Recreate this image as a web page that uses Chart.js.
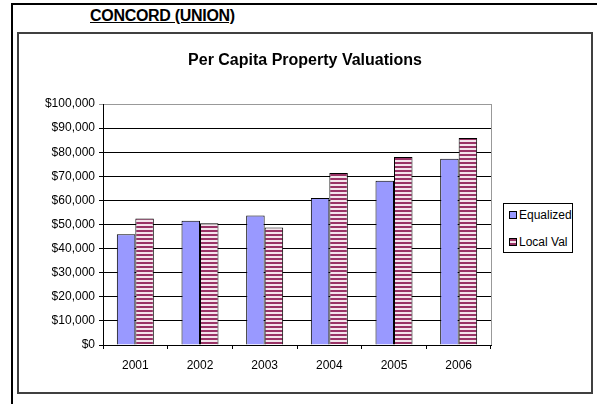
<!DOCTYPE html>
<html>
<head>
<meta charset="utf-8">
<script src="https://cdn.jsdelivr.net/npm/chart.js@4.4.0/dist/chart.umd.min.js"></script>
<style>
  body { margin: 0; background: #fff; font-family: 'Liberation Sans', Arial, sans-serif; }
  #page { position: relative; width: 597px; height: 404px; overflow: hidden; }
  #frameLeft { position: absolute; left: 11px; top: 3px; width: 2px; height: 401px; background: #000; }
  #frameTop { position: absolute; left: 11px; top: 3px; width: 586px; height: 2px; background: #000; }
  #header { position: absolute; left: 90px; top: 7px; font-size: 16px; font-weight: bold; text-decoration: underline; color: #000; letter-spacing: -0.3px; }
  #chartBox { position: absolute; left: 17px; top: 32px; width: 576px; height: 362px; border: 2px solid #404040; box-sizing: border-box; }
  #chartBox canvas { display: block; }
  #legend { position: absolute; left: 503px; top: 203px; width: 70px; height: 50px; border: 1px solid #000; box-sizing: border-box; background: #fff; font-size: 12px; color: #000; }
  .item { position: absolute; left: 5px; height: 14px; line-height: 14px; white-space: nowrap; }
  .swatch { display: inline-block; width: 6px; height: 6px; border: 1px solid #000; vertical-align: 0px; margin-right: 2px; }
</style>
</head>
<body>
<div id="page">
  <div id="frameLeft"></div>
  <div id="frameTop"></div>
  <div id="header">CONCORD (UNION)</div>
  <div id="chartBox"><canvas id="chart" width="572" height="358"></canvas></div>
  <div id="legend">
    <div class="item" style="top:4px"><span class="swatch" style="background:#9999ff"></span>Equalized</div>
    <div class="item" style="top:31px"><span class="swatch" style="background:repeating-linear-gradient(to bottom,#993366 0,#993366 2px,#f4e4ec 2px,#f4e4ec 4px)"></span>Local Val</div>
  </div>
</div>
<script>
// Per capita valuations
const years = ['2001', '2002', '2003', '2004', '2005', '2006'];
const equalized = [46000, 51600, 53700, 61000, 68200, 77300];
const localVal = [52500, 50500, 48800, 71400, 78000, 85900];

function stripePattern() {
  const c = document.createElement('canvas');
  c.width = 4;
  c.height = 4;
  const g = c.getContext('2d');
  g.fillStyle = '#f4e4ec';
  g.fillRect(0, 0, 4, 4);
  g.fillStyle = '#993366';
  g.fillRect(0, 0, 4, 2);
  return g.createPattern(c, 'repeat');
}

// gray right edge of the plot area
const plotBorder = {
  id: 'plotBorder',
  afterDraw(chart) {
    const { ctx, chartArea } = chart;
    ctx.save();
    ctx.strokeStyle = '#999';
    ctx.lineWidth = 1;
    ctx.beginPath();
    ctx.moveTo(Math.round(chartArea.right) + 0.5, chartArea.top);
    ctx.lineTo(Math.round(chartArea.right) + 0.5, chartArea.bottom);
    ctx.stroke();
    ctx.restore();
  }
};

const font = { family: "'Liberation Sans', Arial, sans-serif", size: 12 };

new Chart(document.getElementById('chart').getContext('2d'), {
  type: 'bar',
  data: {
    labels: years,
    datasets: [
      {
        label: 'Equalized',
        data: equalized,
        backgroundColor: '#9999ff',
        borderColor: '#000',
        borderWidth: 1
      },
      {
        label: 'Local Val',
        data: localVal,
        backgroundColor: stripePattern(),
        borderColor: '#000',
        borderWidth: 1
      }
    ]
  },
  options: {
    responsive: false,
    animation: false,
    layout: { padding: 0 },
    datasets: {
      bar: { categoryPercentage: 0.572, barPercentage: 1 }
    },
    plugins: {
      legend: { display: false },
      tooltip: { enabled: false },
      title: {
        display: true,
        text: 'Per Capita Property Valuations',
        color: '#000',
        font: { family: font.family, size: 16, weight: 'bold' },
        padding: { top: 17.4, bottom: 33.4 }
      }
    },
    scales: {
      x: {
        afterFit: scale => { scale.height = 47; },
        grid: { offset: true, drawOnChartArea: false, drawTicks: true, tickLength: 4, color: '#000' },
        border: { color: '#000', width: 1 },
        ticks: { color: '#000', font: font, padding: 9, maxRotation: 0 }
      },
      y: {
        min: 0,
        max: 100000,
        afterFit: scale => { scale.width = 84; },
        grid: {
          color: ctx => (ctx.tick && ctx.tick.value === 100000 ? '#999' : '#000'),
          tickLength: 4
        },
        border: { color: '#000', width: 1 },
        ticks: {
          stepSize: 10000,
          color: '#000',
          font: font,
          padding: 4,
          callback: v => '$' + v.toLocaleString('en-US')
        }
      },
      // empty right-hand axis that reserves the room where the legend sits
      spacer: {
        type: 'linear',
        position: 'right',
        display: true,
        afterFit: scale => { scale.width = 100; },
        grid: { drawOnChartArea: false, drawTicks: false },
        border: { display: false },
        ticks: { display: false }
      }
    }
  },
  plugins: [plotBorder]
});
</script>
</body>
</html>
